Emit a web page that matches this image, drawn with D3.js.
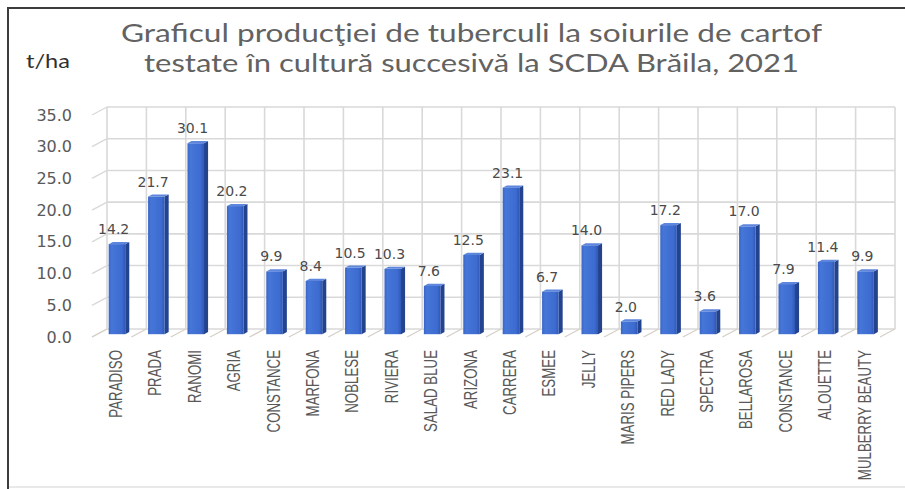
<!DOCTYPE html>
<html>
<head>
<meta charset="utf-8">
<script src="https://cdn.jsdelivr.net/npm/d3@7"></script>
<style>
  html, body { margin: 0; padding: 0; background: #fff; }
  svg { display: block; }
</style>
</head>
<body>
<svg id="chart" width="905" height="489"></svg>
<script>
// Potato varieties and tuber yield (t/ha)
const categories = ["PARADISO", "PRADA", "RANOMI", "AGRIA", "CONSTANCE", "MARFONA", "NOBLESE",
  "RIVIERA", "SALAD BLUE", "ARIZONA", "CARRERA", "ESMEE", "JELLY", "MARIS PIPERS", "RED LADY",
  "SPECTRA", "BELLAROSA", "CONSTANCE", "ALOUETTE", "MULBERRY BEAUTY"];
const yields = [14.2, 21.7, 30.1, 20.2, 9.9, 8.4, 10.5, 10.3, 7.6, 12.5, 23.1, 6.7, 14.0, 2.0,
  17.2, 3.6, 17.0, 7.9, 11.4, 9.9];
const yTicks = [0, 5, 10, 15, 20, 25, 30, 35];
const titleLines = ["Graficul producţiei de tuberculi la soiurile de cartof",
  "testate în cultură succesivă la SCDA Brăila, 2021"];
const unitLabel = "t/ha";

const svg = d3.select("#chart");
const W = 905, H = 489;

// 3D layout: back wall plane + oblique depth vector toward the viewer
const depth = { dx: -15, dy: 8 };
const idx = d3.range(categories.length);
const x = d3.scaleBand().domain(idx).range([107, 895]).paddingInner(0).paddingOuter(0);
const y = d3.scaleLinear().domain([0, 35]).range([329, 107]);
// project a back-plane point forward by fraction d of the depth
const P = (px, py, d) => [px + depth.dx * d, py + depth.dy * d];

svg.append("rect").attr("width", W).attr("height", H).attr("fill", "#fff");

// frame
svg.append("line").attr("x1", 8).attr("y1", 8).attr("x2", W).attr("y2", 8)
  .attr("stroke", "#3c3c3c").attr("stroke-width", 2);
svg.append("line").attr("x1", 8).attr("y1", 7).attr("x2", 8).attr("y2", H)
  .attr("stroke", "#3c3c3c").attr("stroke-width", 2);
svg.append("line").attr("x1", 9).attr("y1", 487).attr("x2", W).attr("y2", 487)
  .attr("stroke", "#e2e2e2").attr("stroke-width", 1.5);

// title
const titleFont = "Lato, 'Open Sans', 'Liberation Sans', sans-serif";
const titleSpec = [{ cx: 471.5, base: 42, len: 701 }, { cx: 471.5, base: 72, len: 655 }];
titleLines.forEach((t, i) => {
  svg.append("text").text(t)
    .attr("x", titleSpec[i].cx).attr("y", titleSpec[i].base)
    .attr("text-anchor", "middle")
    .attr("font-family", titleFont).attr("font-size", 25).attr("font-weight", 400)
    .attr("fill", "#626262")
    .attr("textLength", titleSpec[i].len).attr("lengthAdjust", "spacingAndGlyphs");
});

// unit label
svg.append("text").text(unitLabel)
  .attr("x", 26).attr("y", 68)
  .attr("font-family", titleFont).attr("font-size", 19)
  .attr("fill", "#303030")
  .attr("textLength", 44).attr("lengthAdjust", "spacingAndGlyphs");

// gridlines
const grid = svg.append("g").attr("fill", "none");
const gridColor = "#d9d9d9";
const xL = x.range()[0], xR = x.range()[1];
yTicks.forEach(v => {
  const yy = y(v);
  // back wall horizontal
  grid.append("line").attr("x1", xL).attr("x2", xR).attr("y1", yy).attr("y2", yy)
    .attr("stroke", gridColor).attr("stroke-width", 1.6);
  // left side wall diagonal
  const f = P(xL, yy, 1);
  grid.append("line").attr("x1", xL).attr("y1", yy).attr("x2", f[0]).attr("y2", f[1])
    .attr("stroke", gridColor).attr("stroke-width", 1.4);
});
// vertical gridlines at category boundaries (back wall) + floor diagonals
const bounds = idx.map(i => x(i)).concat([xR]);
bounds.forEach(bx => {
  grid.append("line").attr("x1", bx).attr("x2", bx).attr("y1", y(35)).attr("y2", y(0))
    .attr("stroke", gridColor).attr("stroke-width", 1.6);
  const f = P(bx, y(0), 1);
  grid.append("line").attr("x1", bx).attr("y1", y(0)).attr("x2", f[0]).attr("y2", f[1])
    .attr("stroke", "#d6d0c8").attr("stroke-width", 1.4);
});

// y-axis labels on the front edge
const axisFont = "'DejaVu Sans', Verdana, sans-serif";
svg.append("g").selectAll("text").data(yTicks).join("text")
  .text(d => d.toFixed(1))
  .attr("x", 72).attr("y", d => P(xL, y(d), 1)[1])
  .attr("text-anchor", "end").attr("dominant-baseline", "central")
  .attr("font-family", axisFont).attr("font-size", 16)
  .attr("fill", "#595959");

// gradients for bar faces
const defs = svg.append("defs");
const gFront = defs.append("linearGradient").attr("id", "gFront")
  .attr("x1", 0).attr("x2", 1).attr("y1", 0).attr("y2", 0);
gFront.append("stop").attr("offset", "0%").attr("stop-color", "#3a66c6");
gFront.append("stop").attr("offset", "18%").attr("stop-color", "#4676d8");
gFront.append("stop").attr("offset", "80%").attr("stop-color", "#3d6bd0");
gFront.append("stop").attr("offset", "100%").attr("stop-color", "#2f58b6");

// bars
const barW = x.bandwidth() * 0.42;
const dFront = 0.65, dBack = 0.38;
const bars = svg.append("g");
idx.forEach(i => {
  const v = yields[i];
  const cx = x(i) + x.bandwidth() / 2;
  const xl = cx - barW / 2, xr = cx + barW / 2;
  const yt = y(v), yb = y(0);
  const fTL = P(xl, yt, dFront), fTR = P(xr, yt, dFront), fBR = P(xr, yb, dFront), fBL = P(xl, yb, dFront);
  const bTL = P(xl, yt, dBack), bTR = P(xr, yt, dBack), bBR = P(xr, yb, dBack);
  const poly = pts => pts.map(p => p.join(",")).join(" ");
  // side face
  bars.append("polygon").attr("points", poly([fTR, bTR, bBR, fBR])).attr("fill", "#23438f");
  // top face
  bars.append("polygon").attr("points", poly([fTL, bTL, bTR, fTR])).attr("fill", "#5d86dc");
  // front face
  bars.append("rect")
    .attr("x", fTL[0]).attr("y", fTL[1])
    .attr("width", fTR[0] - fTL[0]).attr("height", fBL[1] - fTL[1])
    .attr("fill", "url(#gFront)");
});

// value labels above bars
svg.append("g").selectAll("text").data(idx).join("text")
  .text(i => yields[i].toFixed(1))
  .attr("x", i => P(x(i) + x.bandwidth() / 2, 0, 1)[0] + 2)
  .attr("y", i => P(0, y(yields[i]), dFront)[1] - 10)
  .attr("text-anchor", "middle")
  .attr("font-family", axisFont).attr("font-size", 14)
  .attr("fill", "#4a4a4a");

// category labels, rotated
const catFont = "'Liberation Sans', Arial, sans-serif";
svg.append("g").selectAll("text").data(idx).join("text")
  .text(i => categories[i])
  .attr("transform", i => {
    const cx = P(x(i) + x.bandwidth() / 2, 0, dFront)[0] - 2;
    return `translate(${cx},350) rotate(-90) scale(0.7,1)`;
  })
  .attr("text-anchor", "end").attr("dominant-baseline", "central")
  .attr("font-family", catFont).attr("font-size", 19)
  .attr("fill", "#595959");
</script>
</body>
</html>
